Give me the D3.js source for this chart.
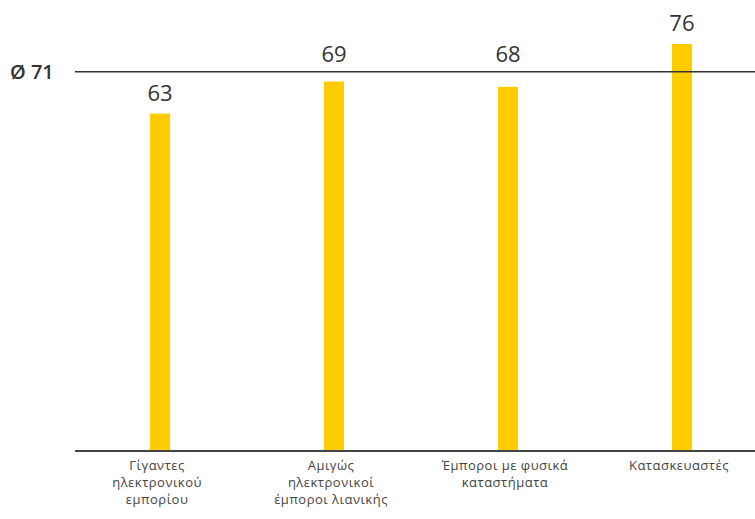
<!DOCTYPE html>
<html>
<head>
<meta charset="utf-8">
<script src="https://cdn.jsdelivr.net/npm/d3@7"></script>
<style>
  body { margin: 0; background: #fff; }
  svg text { font-family: "Open Sans", "Noto Sans", sans-serif; }
</style>
</head>
<body>
<div id="chart"></div>
<script>
// Data
const CATEGORIES = [
  ["Γίγαντες", "ηλεκτρονικού", "εμπορίου"],
  ["Αμιγώς", "ηλεκτρονικοί", "έμποροι λιανικής"],
  ["Έμποροι με φυσικά", "καταστήματα"],
  ["Κατασκευαστές"]
];
const VALUES = [63, 69, 68, 76];
const AVERAGE = 71;
const AVERAGE_LABEL = "Ø 71";

const WIDTH = 755;
const HEIGHT = 519;
const BASELINE = 451;

const svg = d3.select("#chart")
  .append("svg")
  .attr("width", WIDTH)
  .attr("height", HEIGHT);

// Scales
const x = d3.scaleBand()
  .domain(d3.range(VALUES.length))
  .range([73, 769])
  .paddingInner(0.885)
  .paddingOuter(0.443);

const y = d3.scaleLinear()
  .domain([0, 76])
  .range([BASELINE, 44]);

// Bars
svg.selectAll("rect.bar")
  .data(VALUES)
  .enter()
  .append("rect")
  .attr("class", "bar")
  .attr("x", (d, i) => x(i))
  .attr("y", d => y(d))
  .attr("width", x.bandwidth())
  .attr("height", d => BASELINE - y(d))
  .attr("fill", "#ffcc00");

// Average line
svg.append("line")
  .attr("x1", 75)
  .attr("x2", WIDTH)
  .attr("y1", y(AVERAGE) + 1)
  .attr("y2", y(AVERAGE) + 1)
  .attr("stroke", "#333")
  .attr("stroke-width", 1.6);

svg.append("text")
  .attr("x", 10)
  .attr("y", y(AVERAGE) + 8)
  .attr("fill", "#333")
  .style("font-size", "20px")
  .style("font-weight", 600)
  .text(AVERAGE_LABEL);

// Value labels (pushed above the average line when the bar ends just below it)
svg.selectAll("text.value")
  .data(VALUES)
  .enter()
  .append("text")
  .attr("class", "value")
  .attr("x", (d, i) => x(i) + x.bandwidth() / 2)
  .attr("y", d => {
    const top = y(d) - 13;
    return (d < AVERAGE && d > AVERAGE - 5) ? y(AVERAGE) - 9 : top;
  })
  .attr("text-anchor", "middle")
  .attr("fill", "#333")
  .style("font-size", "22px")
  .text(d => d);

// Baseline axis
const axis = svg.append("g")
  .attr("transform", `translate(0,${BASELINE})`);

axis.append("line")
  .attr("x1", 75)
  .attr("x2", WIDTH)
  .attr("stroke", "#444")
  .attr("stroke-width", 2);

// Category labels, one text per line
const cat = axis.selectAll("g.cat")
  .data(CATEGORIES)
  .enter()
  .append("g")
  .attr("class", "cat")
  .attr("transform", (d, i) => `translate(${x(i) + x.bandwidth() / 2 - 3},0)`);

cat.selectAll("text")
  .data(d => d)
  .enter()
  .append("text")
  .attr("y", (d, i) => 19 + i * 17)
  .attr("text-anchor", "middle")
  .attr("fill", "#444")
  .style("font-size", "13px")
  .style("letter-spacing", "0.5px")
  .text(d => d);
</script>
</body>
</html>
